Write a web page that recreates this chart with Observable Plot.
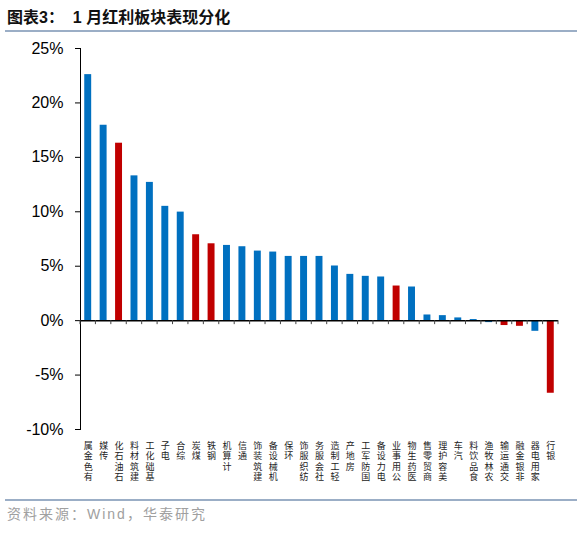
<!DOCTYPE html>
<html>
<head>
<meta charset="utf-8">
<script src="https://cdn.jsdelivr.net/npm/d3@7"></script>
<script src="https://cdn.jsdelivr.net/npm/@observablehq/plot@0.6"></script>
<style>
  body { margin: 0; background: #fff; }
  #page { position: relative; width: 588px; height: 535px; overflow: hidden; }
  #title {
    position: absolute; left: 7px; top: 9px; white-space: pre;
    font: bold 16px "Liberation Sans", "Noto Sans CJK SC", sans-serif; line-height: 18px; color: #111;
  }
  .rule { position: absolute; left: 5px; width: 572px; height: 2px; background: #9BAEC6; }
  #chart { position: absolute; left: 0; top: 36px; }
  #source {
    position: absolute; left: 7px; top: 503px;
    font: 14px "Liberation Sans", "Noto Sans CJK SC", sans-serif; letter-spacing: 2px; color: #a0a0a0;
  }
</style>
</head>
<body>
<div id="page">
  <div id="title">图表3：  1 月红利板块表现分化</div>
  <div class="rule" style="top:30px"></div>
  <div id="chart"></div>
  <div class="rule" style="top:499px"></div>
  <div id="source">资料来源：Wind，华泰研究</div>
</div>
<script>
const categories = [
  "有色金属", "传媒", "石油石化", "建筑材料", "基础化工", "电子", "综合", "煤炭",
  "钢铁", "计算机", "通信", "建筑装饰", "机械设备", "环保", "纺织服饰", "社会服务",
  "轻工制造", "房地产", "国防军工", "电力设备", "公用事业", "医药生物", "商贸零售",
  "美容护理", "汽车", "食品饮料", "农林牧渔", "交通运输", "非银金融", "家用电器", "银行"
];
// 1月涨跌幅 (%)
const returns = [
  22.6, 17.95, 16.3, 13.3, 12.7, 10.5, 9.97, 7.89,
  7.06, 6.91, 6.79, 6.39, 6.3, 5.9, 5.9, 5.9,
  5.02, 4.25, 4.07, 4.01, 3.18, 3.09, 0.52,
  0.46, 0.25, 0.1, -0.18, -0.45, -0.52, -0.98, -6.67
];
// 红利板块
const dividendSectors = ["石油石化", "煤炭", "钢铁", "公用事业", "交通运输", "非银金融", "银行"];
const yTicks = [-10, -5, 0, 5, 10, 15, 20, 25];

const data = categories.map((name, i) => ({ name, value: returns[i] }));
const pad = 0.55;

// small ticks between categories on the zero line
function categoryTicks(cats) {
  return (index, scales) => {
    const step = scales.x(cats[1]) - scales.x(cats[0]);
    const y0 = scales.y(0);
    const edges = cats.map((c) => scales.x(c) - (step * pad) / 2);
    edges.push(edges[edges.length - 1] + step);
    const g = d3.create("svg:g");
    g.selectAll("line")
      .data(edges)
      .join("line")
      .attr("x1", (d) => d)
      .attr("x2", (d) => d)
      .attr("y1", y0)
      .attr("y2", y0 + 4)
      .attr("stroke", "#444");
    return g.node();
  };
}

const plot = Plot.plot({
  width: 588,
  height: 460,
  marginTop: 12,
  marginBottom: 67,
  marginLeft: 80,
  marginRight: 30,
  style: { fontFamily: "Liberation Sans, Noto Sans CJK SC, sans-serif", background: "white" },
  x: { domain: categories, paddingInner: pad, paddingOuter: pad / 2, round: false },
  y: { domain: [-10, 25] },
  color: { type: "identity" },
  marks: [
    Plot.barY(data, {
      x: "name",
      y: "value",
      fill: (d) => (dividendSectors.includes(d.name) ? "#C00000" : "#0070C0"),
    }),
    Plot.frame({ anchor: "left", stroke: "black" }),
    Plot.axisY({
      ticks: yTicks,
      tickFormat: (d) => d + "%",
      tickSize: 5,
      tickPadding: 12,
      fontSize: 16,
      fill: "black",
      label: null,
    }),
    // category labels: one character per line, read bottom to top
    Plot.axisX({
      anchor: "bottom",
      tickSize: 0,
      tickPadding: 12,
      fontSize: 9,
      lineHeight: 1.15,
      fill: "#222",
      tickFormat: (d) => [...d].reverse().join("\n"),
      label: null,
    }),
    Plot.ruleY([0], { stroke: "black", strokeWidth: 1.5 }),
    categoryTicks(categories),
  ],
});
document.getElementById("chart").appendChild(plot);
</script>
</body>
</html>
